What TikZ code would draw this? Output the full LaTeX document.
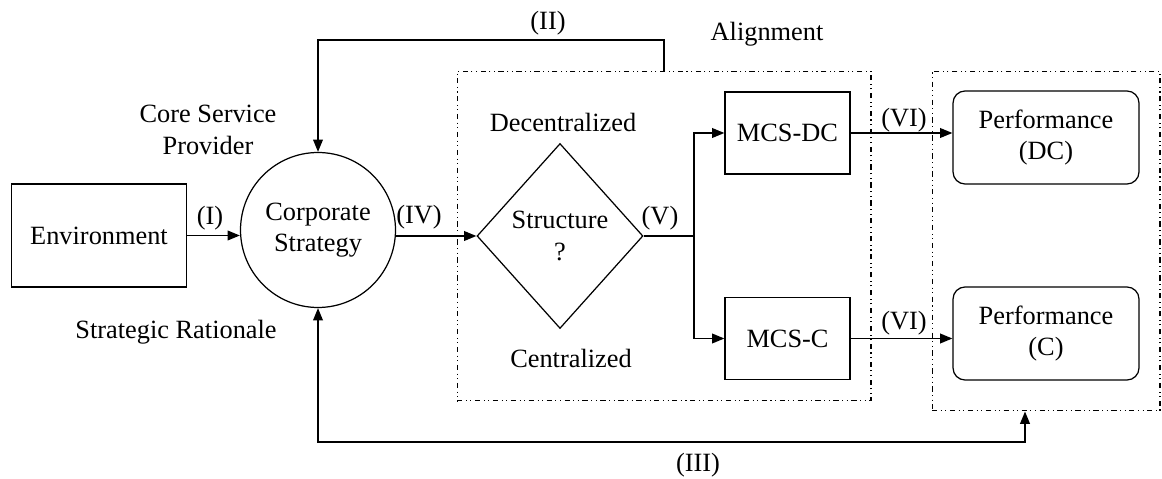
\documentclass[tikz,border=0pt]{standalone}
\usepackage{fontspec}
\setmainfont{Liberation Serif}
\usetikzlibrary{positioning,arrows.meta,shapes.geometric}
\tikzstyle{block}  = [rectangle, draw, line width=0.7pt, text centered, inner sep=0pt]
\tikzstyle{group}  = [rectangle, draw, line width=0.6pt, dash dot dot, inner sep=0pt]
\tikzstyle{arrow}  = [line width=0.9pt, ->, >={Triangle[length=7pt,width=5.5pt]}]

\begin{document}
\begin{tikzpicture}[x=0.02cm, y=-0.02cm, font=\fontsize{15}{18}\selectfont,
            circ/.style={circle, draw, line width=0.7pt, minimum size=3.1cm, inner sep=0pt, align=center},
            decision/.style={diamond, draw, line width=0.7pt, minimum width=3.32cm, minimum height=3.7cm, inner sep=0pt, align=center},
            mcs/.style={block, minimum width=2.5cm, minimum height=1.64cm},
            perfbox/.style={block, rounded corners=0.24cm, minimum width=3.72cm, minimum height=1.86cm, align=center},
            lbl/.style={align=center, inner sep=0pt}]
        \useasboundingbox (0,0) rectangle (1162,479);

        % dashed groups
        \node[group, minimum width=8.28cm, minimum height=6.6cm] (align) at (664,236) {};
        \node[group, minimum width=4.56cm, minimum height=6.8cm] (perf) at (1046,241) {};

        \node[block, minimum width=3.5cm, minimum height=2.06cm] (env) at (99,235.5) {Environment};
        \node[circ] (strat) at (318,230) {Corporate\\Strategy};
        \node[decision] (struct) at (560,236) {Structure\\?};
        \node[mcs] (mcsdc) at (787.5,133) {MCS-DC};
        \node[mcs] (mcsc) at (787.5,338.5) {MCS-C};
        \node[perfbox] (perfdc) at (1046,137.5) {Performance\\(DC)};
        \node[perfbox] (perfc) at (1046,333.5) {Performance\\(C)};

        % labels
        \node[lbl] (csp) at (208,130) {Core Service\\Provider};
        \node[lbl] (rat) at (176,332) {Strategic Rationale};
        \node[lbl] (dec) at (563,122) {Decentralized};
        \node[lbl] (cen) at (571,358) {Centralized};
        \node[lbl] (alg) at (767,34) {Alignment};
        \node[lbl] (lI) at (210,218) {(I)};
        \node[lbl] (lII) at (548,23) {(II)};
        \node[lbl] (lIII) at (698,465) {(III)};
        \node[lbl] (lIV) at (419,217) {(IV)};
        \node[lbl] (lV) at (660,218) {(V)};
        \node[lbl] (lVIa) at (904,120) {(VI)};
        \node[lbl] (lVIb) at (904,323) {(VI)};

        % connectors
        \coordinate (split) at (694,236);
        \coordinate (fbII) at (664,40);
        \coordinate (fbIII) at (1025,442);
        \draw[arrow] (env.east) -- (env.east -| strat.west);
        \draw[arrow] (strat.east |- struct.west) -- (struct.west);
        \draw[arrow] (struct.east) -- (split) |- (mcsdc.west);
        \draw[arrow] (split) |- (mcsc.west);
        \draw[arrow] (mcsdc.east) -- (mcsdc.east -| perfdc.west);
        \draw[arrow] (mcsc.east) -- (mcsc.east -| perfc.west);
        \draw[arrow] (align.north) -- (fbII) -| (strat.north);
        \draw[arrow, <->] (perf.south -| fbIII) -- (fbIII) -| (strat.south);
    \end{tikzpicture}
\end{document}
